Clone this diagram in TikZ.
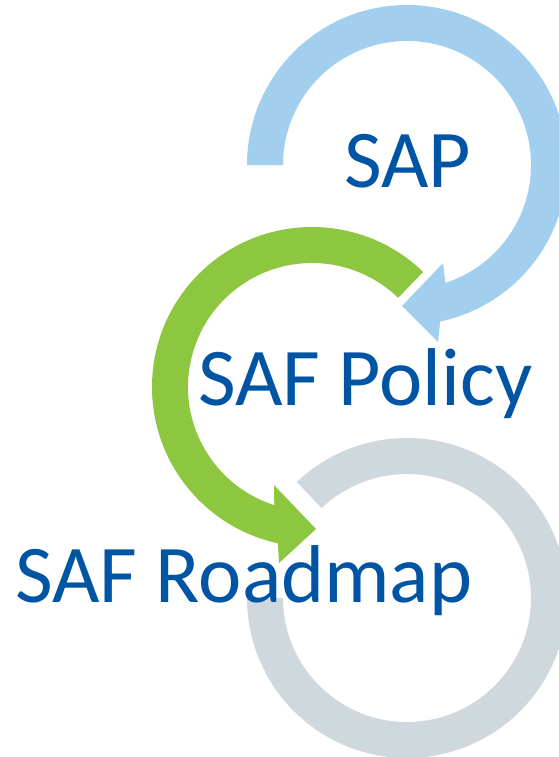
\documentclass[tikz,border=0pt]{standalone}
\usepackage{fontspec}
\setmainfont{Carlito}
\definecolor{ringblue}{RGB}{163,207,239}
\definecolor{ringgreen}{RGB}{141,198,63}
\definecolor{ringgray}{RGB}{207,216,221}
\definecolor{textblue}{RGB}{0,84,164}
\begin{document}
\begin{tikzpicture}[x=1pt,y=1pt,
  label text/.style={anchor=base west,inner sep=0pt,text=textblue,font=\fontsize{82}{90}\selectfont}]
\fill[white] (0,0) rectangle (558,-757);
\useasboundingbox (0,0) rectangle (558,-757);
% gray ring
\coordinate (cgray) at (407,-598);
\fill[ringgray] ([shift={(cgray)}]133.5:160pt) arc[start angle=133.5,end angle=-180,radius=160pt]
  -- ([shift={(cgray)}]-180:124pt) arc[start angle=-180,end angle=133.5,radius=124pt] -- cycle;
% green arrow
\coordinate (cgreen) at (312,-387);
\coordinate (gtip) at (316,-529);
\coordinate (gbarbout) at (279,-563);
\coordinate (gbarbin) at (274,-485);
\fill[ringgreen] ([shift={(cgreen)}]46:160pt) arc[start angle=46,end angle=257.7,radius=160pt]
  -- (gbarbout) -- (gtip) -- (gbarbin)
  -- ([shift={(cgreen)}]252.3:124pt) arc[start angle=252.3,end angle=46,radius=124pt] -- cycle;
% blue arrow
\coordinate (cblue) at (407,-165);
\coordinate (btip) at (402,-306);
\coordinate (bbarbout) at (438,-342);
\coordinate (bbarbin) at (443,-263);
\fill[ringblue] ([shift={(cblue)}]180:160pt) arc[start angle=180,end angle=-78,radius=160pt]
  -- (bbarbout) -- (btip) -- (bbarbin)
  -- ([shift={(cblue)}]-72:124pt) arc[start angle=-72,end angle=180,radius=124pt] -- cycle;
% labels
\node[label text] (sap) at (344,-187) {SAP};
\node[label text] (policy) at (198,-405) {SAF Policy};
\node[label text] (roadmap) at (15,-602) {SAF Roadmap};
\end{tikzpicture}
\end{document}
